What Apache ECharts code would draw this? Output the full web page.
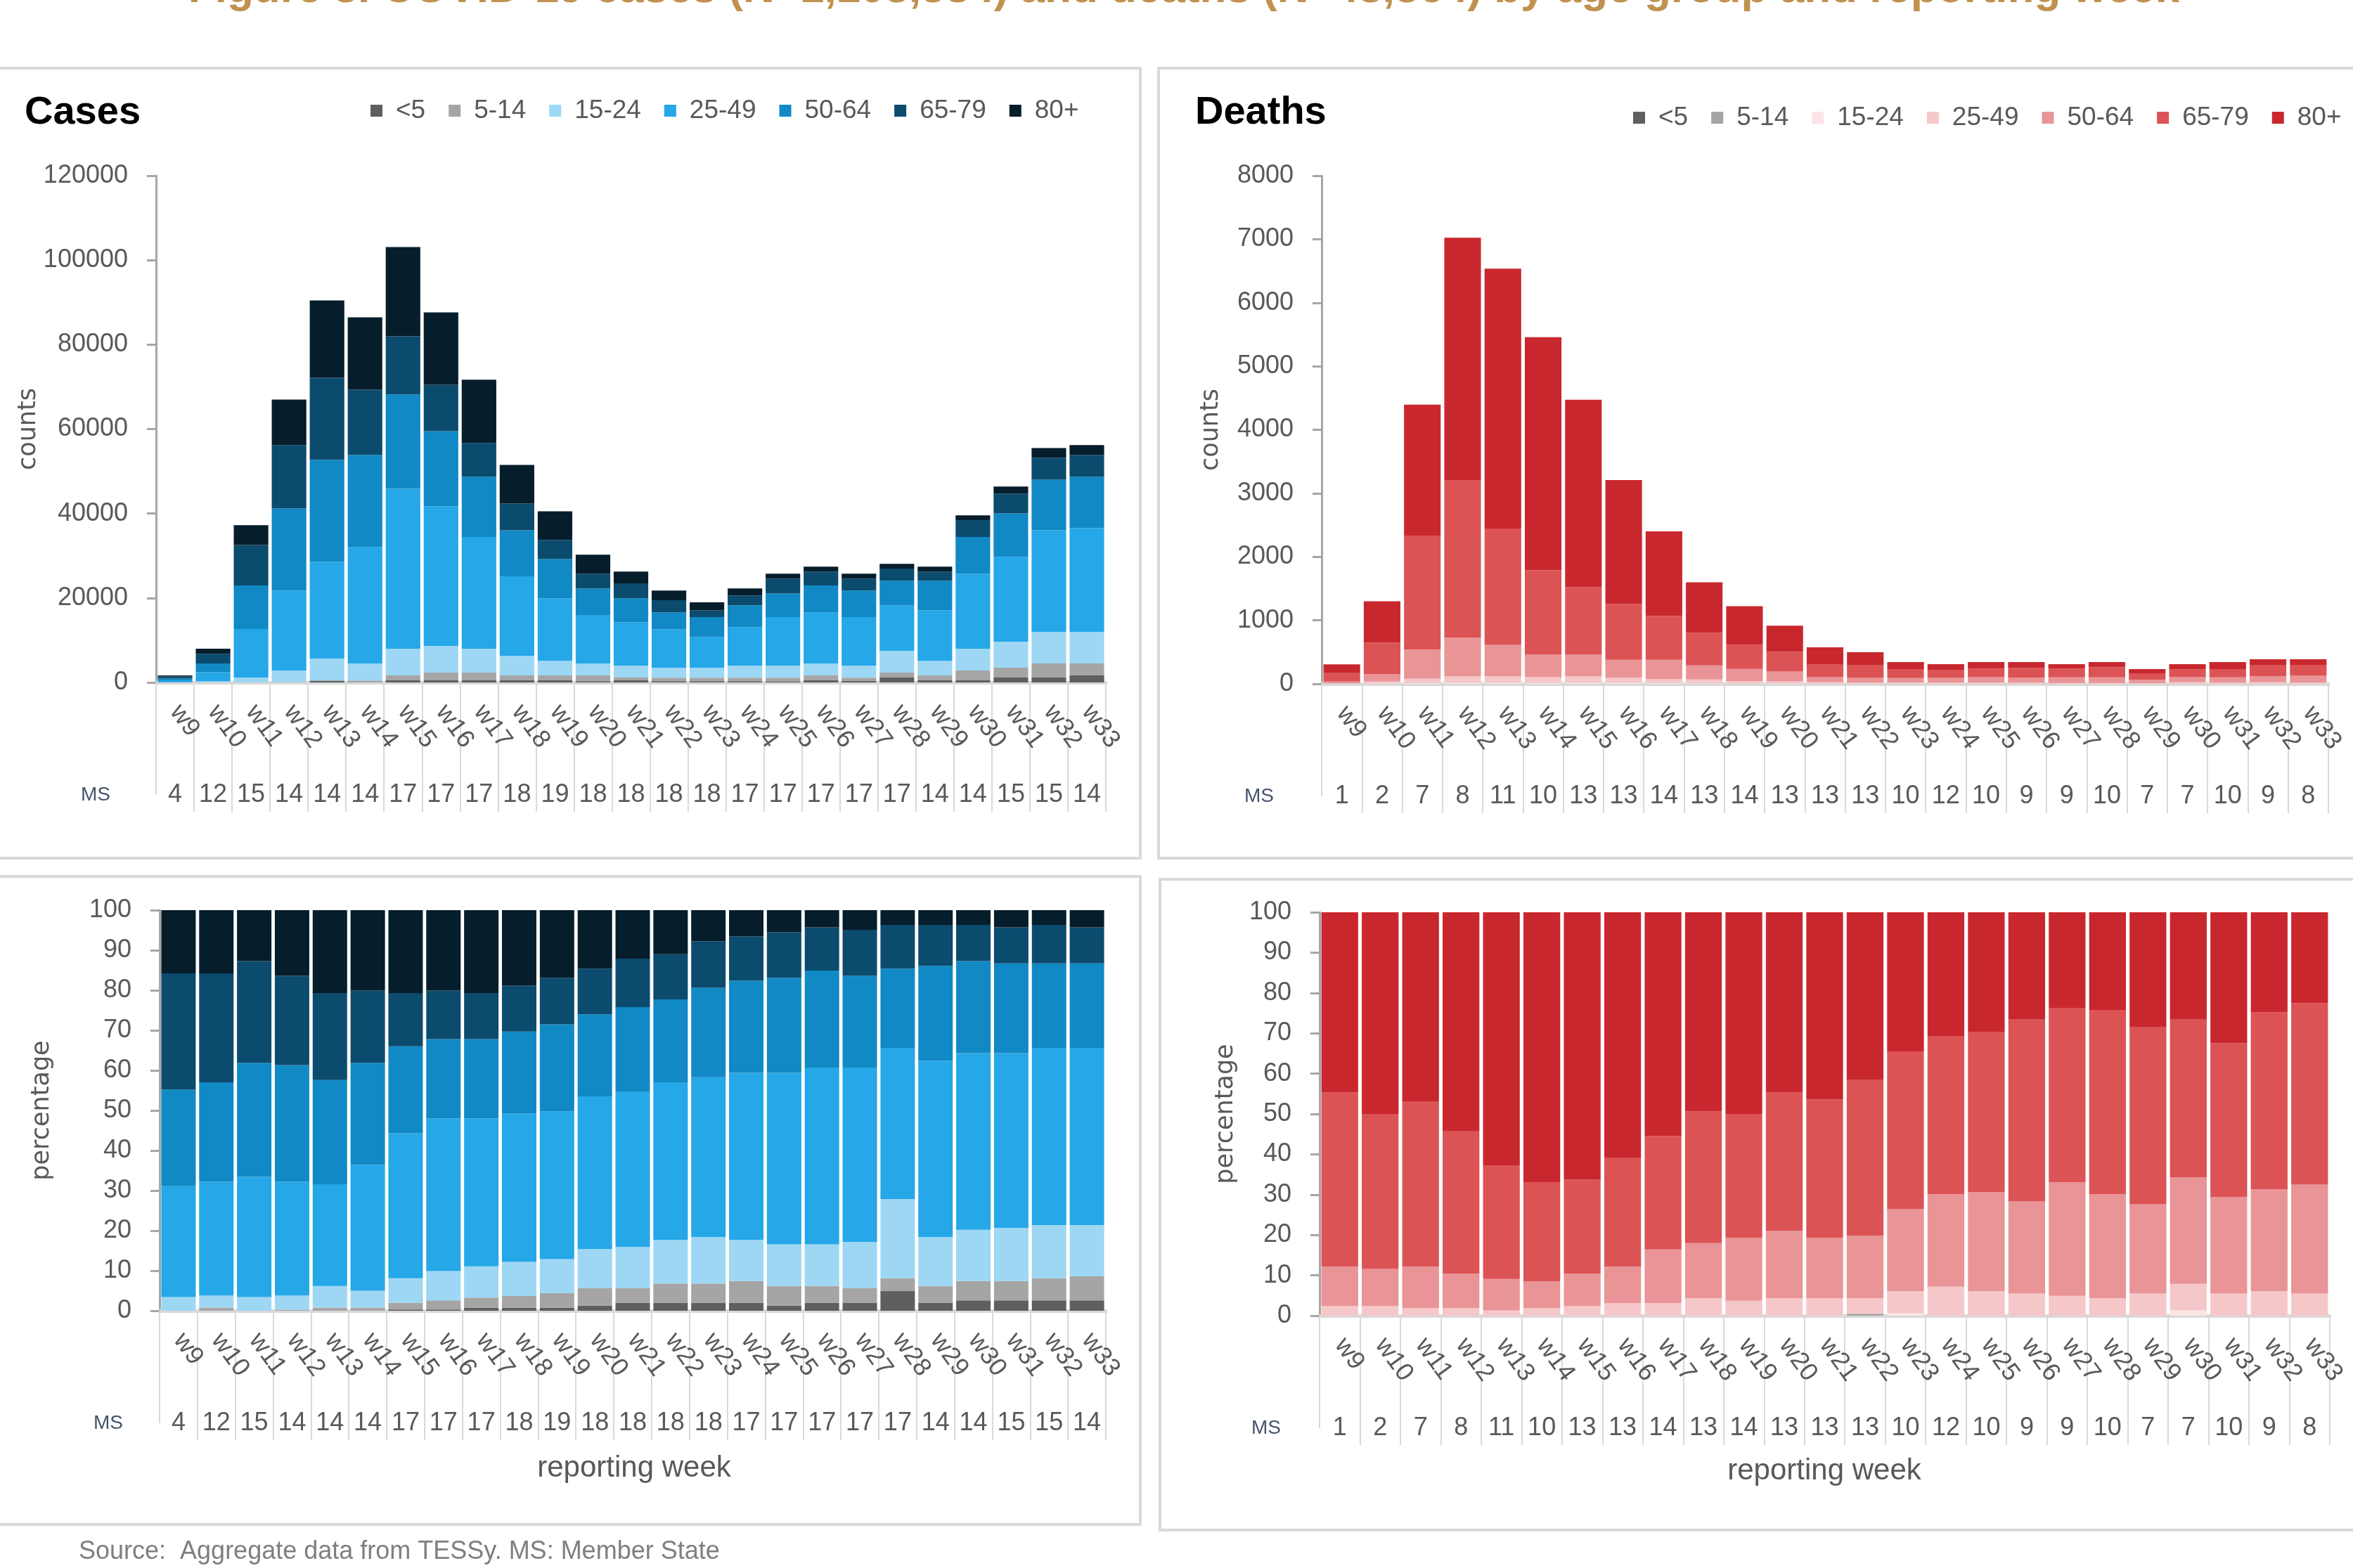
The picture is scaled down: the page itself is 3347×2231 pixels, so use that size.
<!DOCTYPE html>
<html><head><meta charset="utf-8">
<script src="https://cdn.jsdelivr.net/npm/echarts@6/dist/echarts.min.js"></script>
<style>html,body{margin:0;padding:0;background:#fff;}#c{width:3347px;height:2231px;}</style>
</head><body><div id="c"></div>
<script>
// ---------------- data ----------------
const weeks = ['w9','w10','w11','w12','w13','w14','w15','w16','w17','w18','w19','w20','w21','w22','w23','w24','w25','w26','w27','w28','w29','w30','w31','w32','w33'];
const casesMS  = [4,12,15,14,14,14,17,17,17,18,19,18,18,18,18,17,17,17,17,17,14,14,15,15,14];
const deathsMS = [1,2,7,8,11,10,13,13,14,13,14,13,13,13,10,12,10,9,9,10,7,7,10,9,8];
const ageGroups = ['<5','5-14','15-24','25-49','50-64','65-79','80+'];
const casesTicks = [0,20000,40000,60000,80000,100000,120000];
const deathsTicks = [0,1000,2000,3000,4000,5000,6000,7000,8000];
const pctTicks = [0,10,20,30,40,50,60,70,80,90,100];

// cases, counts
const casesLt5     = [0,0,0,0,400,0,500,500,500,500,500,300,500,300,300,300,250,500,400,1150,500,500,1150,1150,1650];
const cases5to14   = [0,50,50,100,100,470,1165,1830,1830,1165,1165,1365,665,840,840,840,890,1170,740,1170,1170,2315,2350,3340,2840];
const cases15to24  = [60,250,1100,2720,5160,4020,6320,6310,5655,4650,3470,2825,2830,2360,2360,2855,2855,2820,2855,5170,3465,5170,6160,7490,7490];
const cases25to49  = [460,2100,11500,18950,22900,27570,37865,33080,26455,18815,14815,11470,10285,9100,7280,9095,11475,12100,11475,10780,11945,17775,20090,24070,24560];
const cases50to64  = [410,2100,10310,19460,24150,21840,22330,17780,14280,10920,9310,6300,5670,3990,4690,5180,5600,6370,6300,5810,7000,8680,10290,11970,12180];
const cases65to79  = [470,2300,9590,14980,19460,15400,13790,10990,7980,6370,4480,3500,3500,2870,1610,2310,3500,3290,2800,2870,2170,3990,4690,5180,5180];
const cases80plus  = [280,1190,4690,10780,18270,17150,21140,17150,14980,9100,6790,4480,2800,2310,1890,1680,1190,1190,1190,1120,1190,1120,1680,2310,2310];

// deaths, counts
const deathsLt5    = [0,0,0,0,0,0,0,0,0,0,0,0,0,0,0,0,0,0,0,0,0,0,0,0,0];
const deaths5to14  = [0,0,0,0,0,0,0,0,0,0,0,0,0,2,0,0,0,0,0,0,0,0,0,0,0];
const deaths15to24 = [0,5,10,20,20,15,20,20,10,8,5,5,3,2,2,0,0,0,0,0,0,4,0,0,0];
const deaths25to49 = [7,30,70,100,100,90,100,80,65,62,40,35,22,18,19,22,21,19,15,15,13,20,19,24,21];
const deaths50to64 = [30,120,460,607,495,354,339,280,305,220,190,155,86,77,70,71,84,78,88,88,51,82,82,97,105];
const deaths65to79 = [132,495,1795,2483,1829,1331,1063,879,688,515,380,310,198,192,134,121,137,155,134,157,102,121,131,170,174];
const deaths80plus = [138,650,2060,3814,4093,3669,2951,1951,1332,795,609,410,267,207,118,96,101,91,73,83,66,83,111,96,87];

// cases, percentage
const casesPctLt5    = [0,0,0,0,0,0,0.3,0.3,0.8,0.8,0.8,1.3,2.0,2.0,2.0,2.0,1.3,2.0,2.0,5.0,2.0,2.6,2.6,2.6,2.6];
const casesPct5to14  = [0,0.8,0,0.2,0.8,0.8,1.7,2.3,2.5,2.9,3.6,4.3,3.6,4.8,4.8,5.4,4.9,4.2,3.6,3.1,4.2,4.8,4.8,5.5,6.0];
const casesPct15to24 = [3.4,3.0,3.4,3.6,5.4,4.2,6.1,7.3,7.8,8.5,8.5,9.8,10.3,10.9,11.6,10.3,10.4,10.4,11.6,19.8,12.2,12.8,13.3,13.3,12.8];
const casesPct25to49 = [27.7,28.4,30.0,28.4,25.4,31.4,36.2,38.1,36.9,37.0,36.9,38.1,38.7,39.3,39.9,41.7,42.8,44.1,43.5,37.7,44.0,44.1,43.6,44.2,44.2];
const casesPct50to64 = [24.1,24.8,28.5,29.1,26.0,25.5,21.7,19.8,19.8,20.5,21.7,20.5,21.2,20.7,22.3,23.0,23.7,24.2,22.9,19.8,23.7,23.0,22.4,21.1,21.1];
const casesPct65to79 = [29.0,27.2,25.4,22.3,21.7,18.0,13.3,12.1,11.5,11.5,11.6,11.4,12.1,11.3,11.6,11.0,11.4,10.8,11.5,10.9,10.2,9.0,9.0,9.6,9.0];
const casesPct80plus = [15.8,15.8,12.7,16.4,20.7,20.1,20.7,20.1,20.7,18.8,16.9,14.6,12.1,11.0,7.8,6.6,5.5,4.3,4.9,3.7,3.7,3.7,4.3,3.7,4.3];

// deaths, percentage
const deathsPctLt5    = [0,0,0,0,0,0,0,0,0,0,0,0,0,0,0,0,0,0,0,0,0,0,0,0,0];
const deathsPct5to14  = [0,0,0,0,0,0,0,0,0,0,0,0,0,0.5,0,0,0,0,0,0,0,0,0,0,0];
const deathsPct15to24 = [0,0,0,0,0,0,0,0,0,0,0,0,0,0,0.6,0,0,0,0,0,0,1.3,0,0,0];
const deathsPct25to49 = [2.4,2.4,1.9,1.9,1.3,1.9,2.4,3.1,3.1,4.3,3.7,4.3,4.3,3.8,5.5,7.2,6.1,5.5,4.9,4.3,5.5,6.6,5.5,6.1,5.5];
const deathsPct50to64 = [9.8,9.2,10.3,8.5,7.8,6.6,8.0,9.1,13.3,13.7,15.6,16.7,15.0,15.5,20.3,22.9,24.5,22.9,28.2,25.8,22.1,26.4,23.9,25.2,27.0];
const deathsPct65to79 = [43.1,38.4,40.8,35.3,28.2,24.6,23.3,27.0,28.1,32.6,30.7,34.3,34.3,38.6,39.1,39.1,39.8,45.0,43.2,45.7,44.0,39.1,38.1,43.9,45.0];
const deathsPct80plus = [44.7,50.0,47.0,54.3,62.7,66.9,66.3,60.8,55.5,49.4,50.0,44.7,46.4,41.6,34.5,30.8,29.6,26.6,23.7,24.2,28.4,26.6,32.5,24.8,22.5];

const casesColors  = ['#5F5F5F','#A5A5A5','#9DD7F4','#25A7E8','#1189C5','#0B4B6E','#061D2B'];
const deathsColors = ['#5F5F5F','#A5A5A5','#FBE4E5','#F5C7C9','#E99496','#DC5356','#C8282D'];

// ---------------- chart ----------------
const FONT = "'Liberation Sans', Arial, sans-serif";
const NAMEFONT = "'DejaVu Sans', Verdana, sans-serif";
const chart = echarts.init(document.getElementById('c'));

const grids = [
  {left:222,  top:250,  right:1774, bottom:1260},
  {left:1880, top:250,  right:35,   bottom:1258},
  {left:227,  top:1295, right:1774, bottom:366},
  {left:1877, top:1298, right:33,   bottom:359}
];

function weekAxis(g){
  return {type:'category', gridIndex:g, data:weeks, position:'bottom',
    axisLine:{show:true, lineStyle:{color:'#D9D9D9', width:5}},
    axisTick:{show:true, alignWithLabel:false, length:160, lineStyle:{color:'#D9D9D9', width:2}},
    axisLabel:{interval:0, rotate:-54, margin:36, fontSize:36, color:'#595959', fontFamily:FONT},
    splitLine:{show:false}};
}
function msAxis(g, ms, gap){
  return {type:'category', gridIndex:g, data:weeks, position:'bottom', offset:160,
    axisLine:{show:false},
    axisTick:{show:true, alignWithLabel:false, length:24, interval:(i)=> i!==0, lineStyle:{color:'#D9D9D9', width:2}},
    axisLabel:{interval:0, margin:0, verticalAlign:'middle', fontSize:36, color:'#595959', fontFamily:FONT,
      formatter:(v, i)=> String(ms[i])},
    name:'MS', nameLocation:'start', nameGap:gap,
    nameTextStyle:{fontSize:28, color:'#44546A', fontFamily:FONT, padding:[18,0,0,0]},
    splitLine:{show:false}};
}
function valAxis(g, ticks, name, gap){
  return {type:'value', gridIndex:g, min:ticks[0], max:ticks[ticks.length-1], interval:ticks[1]-ticks[0],
    axisLine:{show:true, lineStyle:{color:'#A6A6A6', width:3}},
    axisTick:{show:true, length:13, lineStyle:{color:'#A6A6A6', width:3}},
    splitLine:{show:false},
    axisLabel:{fontSize:36, color:'#595959', margin:40, fontFamily:FONT, formatter:(v)=> String(v)},
    name:name, nameLocation:'middle', nameGap:gap, nameRotate:90,
    nameTextStyle:{fontSize:35, color:'#595959', fontFamily:NAMEFONT}};
}

const casesCounts  = [casesLt5,cases5to14,cases15to24,cases25to49,cases50to64,cases65to79,cases80plus];
const deathsCounts = [deathsLt5,deaths5to14,deaths15to24,deaths25to49,deaths50to64,deaths65to79,deaths80plus];
const casesPct     = [casesPctLt5,casesPct5to14,casesPct15to24,casesPct25to49,casesPct50to64,casesPct65to79,casesPct80plus];
const deathsPct    = [deathsPctLt5,deathsPct5to14,deathsPct15to24,deathsPct25to49,deathsPct50to64,deathsPct65to79,deathsPct80plus];
const deathNames = ageGroups.map(a => a + ' ');

const series = [];
function addStack(g, arrs, names, colors){
  arrs.forEach((arr, k) => {
    series.push({type:'bar', name:names[k], data:arr, xAxisIndex:2*g, yAxisIndex:g, stack:'s'+g,
      barCategoryGap:'9%', itemStyle:{color:colors[k]}, emphasis:{disabled:true}, animation:false});
  });
}
addStack(0, casesCounts, ageGroups, casesColors);
addStack(1, deathsCounts, deathNames, deathsColors);
addStack(2, casesPct, ageGroups, casesColors);
addStack(3, deathsPct, deathNames, deathsColors);

const legendBase = {orient:'horizontal', icon:'rect', itemWidth:17, itemHeight:17, itemGap:33, selectedMode:false,
  textStyle:{fontSize:37, color:'#595959', fontFamily:FONT, padding:[0,0,0,14]}};

const mainTitle = 'Figure 3. COVID-19 cases (N=1,103,584) and deaths (N=43,364) by age group and reporting week';

const option = {
  backgroundColor:'#ffffff',
  animation:false,
  textStyle:{fontFamily:FONT},
  grid: grids,
  xAxis:[weekAxis(0), msAxis(0, casesMS, 65), weekAxis(1), msAxis(1, deathsMS, 68),
         weekAxis(2), msAxis(2, casesMS, 52), weekAxis(3), msAxis(3, deathsMS, 55)],
  yAxis:[valAxis(0, casesTicks, 'counts', 155), valAxis(1, deathsTicks, 'counts', 140),
         valAxis(2, pctTicks, 'percentage', 150), valAxis(3, pctTicks, 'percentage', 116)],
  legend:[
    Object.assign({}, legendBase, {data:ageGroups, left:522, top:134}),
    Object.assign({}, legendBase, {data:deathNames, left:2318, top:144, formatter:(n)=> n.trim()})
  ],
  title:[
    {text:'Cases', left:35, top:133, padding:0, textStyle:{fontSize:56, fontWeight:'bold', color:'#000', fontFamily:FONT}},
    {text:'Deaths', left:1700, top:133, padding:0, textStyle:{fontSize:56, fontWeight:'bold', color:'#000', fontFamily:FONT}}
  ],
  graphic:[
    {type:'rect', silent:true, z:-10, shape:{x:-10, y:97, width:1632, height:1124}, style:{fill:'none', stroke:'#D9D9D9', lineWidth:4}},
    {type:'rect', silent:true, z:-10, shape:{x:1648, y:97, width:1720, height:1124}, style:{fill:'none', stroke:'#D9D9D9', lineWidth:4}},
    {type:'rect', silent:true, z:-10, shape:{x:-10, y:1247, width:1632, height:922}, style:{fill:'none', stroke:'#D9D9D9', lineWidth:4}},
    {type:'rect', silent:true, z:-10, shape:{x:1650, y:1251, width:1720, height:926}, style:{fill:'none', stroke:'#D9D9D9', lineWidth:4}},
    {type:'text', silent:true, x:1684, y:-14, style:{text:mainTitle, fill:'#C0914F', font:"bold 62px 'Liberation Sans', Arial, sans-serif",
      textAlign:'center', textVerticalAlign:'middle', align:'center', verticalAlign:'middle'}},
    {type:'text', silent:true, x:902, y:2089, style:{text:'reporting week', fill:'#595959', font:"42px 'Liberation Sans', Arial, sans-serif",
      textAlign:'center', textVerticalAlign:'middle', align:'center', verticalAlign:'middle'}},
    {type:'text', silent:true, x:2595, y:2093, style:{text:'reporting week', fill:'#595959', font:"42px 'Liberation Sans', Arial, sans-serif",
      textAlign:'center', textVerticalAlign:'middle', align:'center', verticalAlign:'middle'}},
    {type:'text', silent:true, x:112, y:2208, style:{text:'Source:  Aggregate data from TESSy. MS: Member State', fill:'#7F7F7F', font:"36px 'Liberation Sans', Arial, sans-serif",
      textAlign:'left', textVerticalAlign:'middle', align:'left', verticalAlign:'middle'}}
  ],
  series: series
};
chart.setOption(option);
</script>
</body></html>
